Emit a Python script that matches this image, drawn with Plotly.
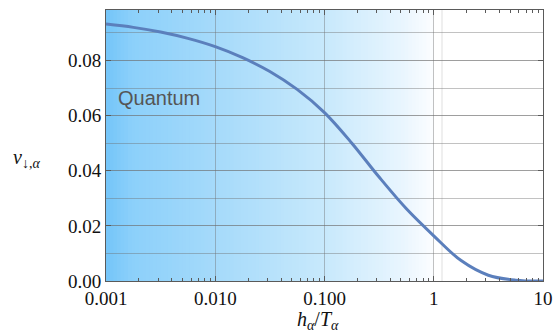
import plotly.graph_objects as go

# ---- data ----
h_over_T = [0.001, 0.00178, 0.00316, 0.00562, 0.01, 0.0178, 0.0316, 0.0562, 0.1,
            0.178, 0.316, 0.562, 1.0, 1.78, 3.16, 5.62, 10.0]
nu_down = [0.0932, 0.0920, 0.0903, 0.0880, 0.0850, 0.0810, 0.0760, 0.0695, 0.0611,
           0.0500, 0.0377, 0.0262, 0.0164, 0.0074, 0.0021, 0.0003, 0.0]

x_tickvals = [0.001, 0.01, 0.1, 1, 10]
x_ticktext = ["0.001", "0.010", "0.100", "1", "10"]
y_tickvals = [0.00, 0.02, 0.04, 0.06, 0.08]
y_ticktext = ["0.00", "0.02", "0.04", "0.06", "0.08"]
region_label = "Quantum"

# gradient colour stops (fraction of the quantum region, rgb)
grad_stops = [(0.0, (116, 197, 249)), (0.08, (140, 208, 250)), (0.33, (165, 218, 250)),
              (0.67, (200, 233, 252)), (0.9, (232, 245, 254)), (1.0, (252, 253, 255))]

minor_vals = [m * 10 ** e for e in range(-3, 1) for m in range(2, 10)]


def lerp_color(t):
    for (t0, c0), (t1, c1) in zip(grad_stops[:-1], grad_stops[1:]):
        if t0 <= t <= t1:
            f = (t - t0) / (t1 - t0)
            return "rgb(%d,%d,%d)" % tuple(round(a + (b - a) * f) for a, b in zip(c0, c1))
    return "rgb(%d,%d,%d)" % grad_stops[-1][1]


fig = go.Figure()
fig.add_trace(go.Scatter(x=h_over_T, y=nu_down, mode="lines",
                         line=dict(color="#5b7fbc", width=3, shape="spline", smoothing=1.0),
                         hoverinfo="skip", showlegend=False))

# gradient background (quantum region ends at h/T = 1 -> 3/4 of the log axis)
shapes = []
N = 90
end = 0.75
for i in range(N):
    t0 = i / N
    t1 = (i + 1) / N
    shapes.append(dict(type="rect", xref="x domain", yref="y domain",
                       x0=t0 * end, x1=min(t1 * end + 0.002, end), y0=0, y1=1,
                       fillcolor=lerp_color((t0 + t1) / 2), line=dict(width=0), layer="below"))
shapes.append(dict(type="line", xref="x", yref="y domain", x0=1.19, x1=1.19, y0=0, y1=1,
                   line=dict(color="rgba(150,150,150,0.3)", width=1), layer="below"))

grid_col = "rgba(110,110,110,0.42)"
axis_col = "#5a5a5a"
serif = "Liberation Serif, Times New Roman, serif"
tick_font = dict(family=serif, size=19, color="#111")

fig.update_layout(
    width=557, height=335,
    margin=dict(l=106, r=14, t=10, b=54, autoexpand=False),
    paper_bgcolor="white", plot_bgcolor="white",
    shapes=shapes,
    xaxis=dict(type="log", range=[-3, 1], tickmode="array", tickvals=x_tickvals,
               ticktext=x_ticktext, ticks="inside", ticklen=5, tickcolor=axis_col,
               showline=True, linecolor=axis_col, linewidth=1, mirror="ticks",
               showgrid=True, gridcolor=grid_col, gridwidth=1, zeroline=False,
               tickfont=tick_font, automargin=False,
               minor=dict(tickvals=minor_vals, ticks="inside", ticklen=3,
                          tickcolor=axis_col, showgrid=False)),
    yaxis=dict(range=[0, 0.0983], tickmode="array", tickvals=y_tickvals,
               ticktext=y_ticktext, ticks="inside", ticklen=5, tickcolor=axis_col,
               showline=True, linecolor=axis_col, linewidth=1, mirror="ticks",
               showgrid=True, gridcolor=grid_col, gridwidth=1, zeroline=False,
               tickfont=tick_font, automargin=False,
               minor=dict(dtick=0.01, tick0=0, ticks="", showgrid=True,
                          gridcolor=grid_col, gridwidth=1)),
    annotations=[
        dict(text=region_label, xref="paper", yref="paper",
             x=(116 - 106) / 437, y=(280.7 - 98) / 270.7, xanchor="left", yanchor="middle",
             showarrow=False, font=dict(family="Liberation Sans, Arial, sans-serif",
                                        size=20, color="#555")),
        dict(text="<i>h</i><sub><i>α</i></sub>/<i>T</i><sub><i>α</i></sub>",
             xref="paper", yref="paper", x=(318 - 106) / 437, y=(280.7 - 320.5) / 270.7,
             xanchor="center", yanchor="middle", showarrow=False,
             font=dict(family=serif, size=20, color="#111")),
        dict(text="<i>ν</i><sub>↓,<i>α</i></sub>",
             xref="paper", yref="paper", x=(11 - 106) / 437, y=(280.7 - 158) / 270.7,
             xanchor="left", yanchor="middle", showarrow=False,
             font=dict(family=serif, size=20, color="#111")),
    ],
)

fig.write_html("out.html", config={"displayModeBar": False},
               post_script="document.body.style.margin='0px';")
